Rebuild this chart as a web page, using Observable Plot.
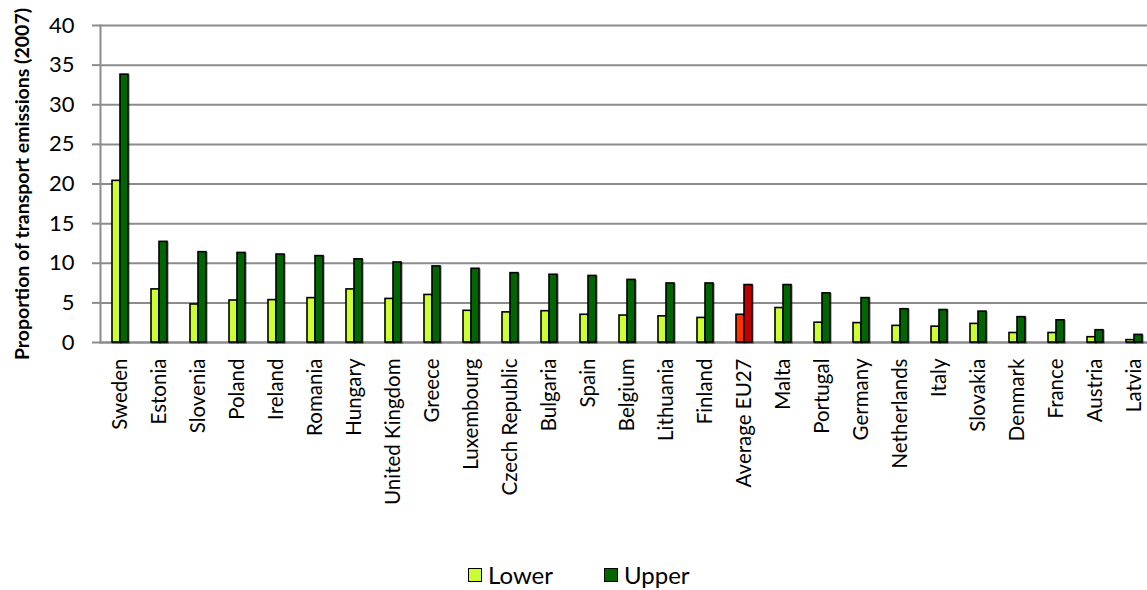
<!DOCTYPE html>
<html><head><meta charset="utf-8">
<script src="https://cdn.jsdelivr.net/npm/d3@7"></script>
<script src="https://cdn.jsdelivr.net/npm/@observablehq/plot@0.6"></script>
<style>
html,body{margin:0;padding:0;background:#fff;overflow:hidden;width:1147px;}
#chart{font-family:Lato, sans-serif;width:1147px;overflow:hidden;}
#chart svg{display:block;max-width:none !important;height:545px !important;}
g[aria-label="y-axis label"] text{font-weight:bold;font-size:19.5px;}
g[aria-label="bar"] rect{filter:drop-shadow(1.2px 1.2px 0.6px rgba(0,0,0,0.35));}
#legend{height:45px;position:relative;font-family:Lato, sans-serif;font-size:24px;color:#000;}
#legend .item{position:absolute;top:16px;height:28px;line-height:28px;display:flex;align-items:center;}
#legend .sw{width:12px;height:12px;border:1.5px solid #000;margin-right:6px;}
</style></head><body>
<div id="chart"></div>
<div id="legend"></div>
<script>
const countries = ["Sweden","Estonia","Slovenia","Poland","Ireland","Romania","Hungary","United Kingdom","Greece","Luxembourg","Czech Republic","Bulgaria","Spain","Belgium","Lithuania","Finland","Average EU27","Malta","Portugal","Germany","Netherlands","Italy","Slovakia","Denmark","France","Austria","Latvia"];
const lower = [20.4,6.7,4.8,5.3,5.35,5.6,6.7,5.5,6.0,4.0,3.8,3.95,3.5,3.4,3.3,3.1,3.5,4.35,2.5,2.45,2.1,2.0,2.35,1.2,1.2,0.67,0.3];
const upper = [33.8,12.7,11.4,11.3,11.1,10.9,10.5,10.1,9.6,9.3,8.75,8.55,8.4,7.9,7.45,7.45,7.25,7.25,6.2,5.6,4.2,4.1,3.9,3.2,2.8,1.55,0.96];
const seriesNames = ["Lower","Upper"];
const yTicks = [0,5,10,15,20,25,30,35,40];
const highlight = "Average EU27";
const seriesColors = {Lower:"#ccff33", Upper:"#006600"};
const highlightColors = {Lower:"#ff3300", Upper:"#c00000"};
const yTitle = "Proportion of transport emissions (2007)";

const data = countries.flatMap((c,i)=>[
  {country:c, series:"Lower", value:lower[i]},
  {country:c, series:"Upper", value:upper[i]}
]);
const colorOf = d => (d.country===highlight ? highlightColors : seriesColors)[d.series];

const plot = Plot.plot({
  width:1156, height:545, marginTop:25, marginBottom:203, marginLeft:97, marginRight:0,
  style:{fontFamily:"Lato, sans-serif", fontSize:"21px", color:"#000", background:"#fff"},
  fx:{domain:countries, padding:0, label:null},
  x:{domain:seriesNames, paddingInner:0, paddingOuter:1.35, axis:null},
  y:{domain:[0,40], label:null},
  color:{type:"identity"},
  marks:[
    Plot.gridY(yTicks, {stroke:"#8c8c8c", strokeOpacity:1, strokeWidth:2}),
    Plot.axisY(yTicks, {tickSize:8, tickPadding:18, stroke:"#8c8c8c", strokeWidth:2, fill:"#000",
      fontSize:22, label:yTitle, labelAnchor:"center", labelOffset:85, labelArrow:"none"}),
    Plot.frame({anchor:"left", facetAnchor:"left", stroke:"#8c8c8c", strokeWidth:2}),
    Plot.ruleY([0], {stroke:"#8c8c8c", strokeWidth:2}),
    Plot.barY(data, {fx:"country", x:"series", y:"value", fill:colorOf, stroke:"#000", strokeWidth:1.6}),
    Plot.axisFx({anchor:"bottom", tickRotate:-90, tickSize:0, tickPadding:16, fontSize:20.5, label:null})
  ]
});
document.getElementById("chart").appendChild(plot);

const legend = d3.select("#legend");
const lx = {Lower:468, Upper:604};
seriesNames.forEach(s=>{
  const it = legend.append("div").attr("class","item").style("left", lx[s]+"px");
  it.append("div").attr("class","sw").style("background", seriesColors[s]);
  it.append("span").text(s);
});
</script></body></html>
